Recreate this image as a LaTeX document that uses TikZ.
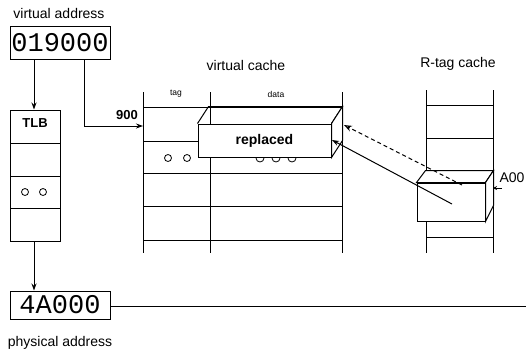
\documentclass[tikz,border=0pt]{standalone}
\usepackage{fontspec}
\setmainfont{Liberation Sans}
\newfontfamily\monofont{Liberation Mono}
\usetikzlibrary{arrows.meta,calc}
\begin{document}
\begin{tikzpicture}[x=1pt,y=-1pt,line width=1pt,
  lbl/.style={font=\fontsize{14}{16}\selectfont,inner sep=0pt},
  bl/.style={font=\bfseries\fontsize{13}{15}\selectfont,inner sep=0pt},
  small/.style={font=\fontsize{8.5}{10}\selectfont,inner sep=0pt},
  addr/.style={draw,minimum width=100pt,minimum height=33pt,inner sep=0pt,font=\monofont\fontsize{27}{30}\selectfont},
  arr/.style={-{Stealth[length=7pt,width=5pt]}},
  oarr/.style={-{Stealth[open,length=8pt,width=6pt]}},
  gridline/.style={line width=0.9pt},
  dot/.style={line width=0.8pt}]
\useasboundingbox (0,0) rectangle (526,357);
\fill[white] (0,0) rectangle (526,357);
% labels
\node[lbl] (valbl) at (59,13) {virtual address};
\node[lbl] (vclbl) at (246,65) {virtual cache};
\node[lbl] (rtlbl) at (458,64) {R-tag cache};
\node[lbl] (palbl) at (60,343) {physical address};
% virtual address
\node[addr] (va) at (60,42.5) {019000};
% TLB
\node[draw,minimum width=50pt,minimum height=131pt,inner sep=0pt] (tlb) at (35,175.5) {};
\node[bl] (tlbtxt) at (35,123) {TLB};
\foreach \y in {143,176,208} \draw[gridline] (10,\y) -- (60,\y);
\draw[dot] (25,192) circle (3.5) (43,192) circle (3.5);
% physical address
\node[addr,minimum height=28pt] (pa) at (60,305) {4A000};
% virtual cache grid
\foreach \x in {143,210,342} \draw[gridline] (\x,92) -- (\x,253);
\foreach \y in {107,141,173,206,240} \draw[gridline] (143,\y) -- (342,\y);
\node[small] (taglbl) at (176,94) {tag};
\node[small] (datalbl) at (276,94) {data};
\draw[dot] (168,158) circle (3.5) (187,158) circle (3.5);
\draw[dot] (260,158) circle (4) (276,158) circle (4) (292,158) circle (4);
% R-tag cache grid
\foreach \x in {426,493} \draw[gridline] (\x,90) -- (\x,253);
\foreach \y in {105,138,172,205,237} \draw[gridline] (426,\y) -- (493,\y);
% replaced box
\node[draw,fill=white,minimum width=133pt,minimum height=33pt,inner sep=0pt,font=\bfseries\fontsize{14}{16}\selectfont] (rep) at (264.5,140.5) {replaced};
\draw (rep.north west) -- ++(11,-17) -- ($(rep.north east)+(11,-17)$) -- (rep.north east);
\filldraw[fill=white] (rep.north east) -- ++(11,-17) -- ($(rep.south east)+(11,-17)$) -- (rep.south east) -- cycle;
% R-tag box
\node[draw,fill=white,minimum width=68pt,minimum height=38pt,inner sep=0pt] (rt) at (451,202) {};
\filldraw[fill=white] (rt.north west) -- ++(9,-12) -- ($(rt.north east)+(8,-12)$) -- (rt.north east) -- cycle;
\filldraw[fill=white] (rt.north east) -- ++(8,-12) -- ($(rt.south east)+(8,-16)$) -- (rt.south east) -- cycle;
% connectors
\coordinate (x34) at (34,0);
\coordinate (x84) at (84,0);
\coordinate (tagin) at (143,126);
\draw[arr] (va.south -| x34) -- (tlb.north -| x34);
\draw[arr] (va.south -| x84) |- (tagin);
\node[bl,font=\bfseries\fontsize{13}{15}\selectfont] (n900) at (127,115) {900};
\draw[arr] (tlb.south -| x34) -- (pa.north -| x34);
\coordinate (paend) at (526,306);
\draw (pa.east |- paend) -- (paend);
\coordinate (tipA) at (332,140);
\coordinate (tipB) at (344,125);
\coordinate (solidstart) at (452,204);
\coordinate (dashstart) at (462,185);
\draw[arr] (solidstart) -- (tipA);
\draw[oarr,dashed,dash pattern=on 4pt off 3pt] (dashstart) -- (tipB);
\coordinate (a00in) at (502,188);
\coordinate (a00tip) at (493,188);
\draw[-{Stealth[length=4pt,width=4pt]}] (a00in) -- (a00tip);
\node[lbl] (a00) at (512,178) {A00};
\end{tikzpicture}
\end{document}
